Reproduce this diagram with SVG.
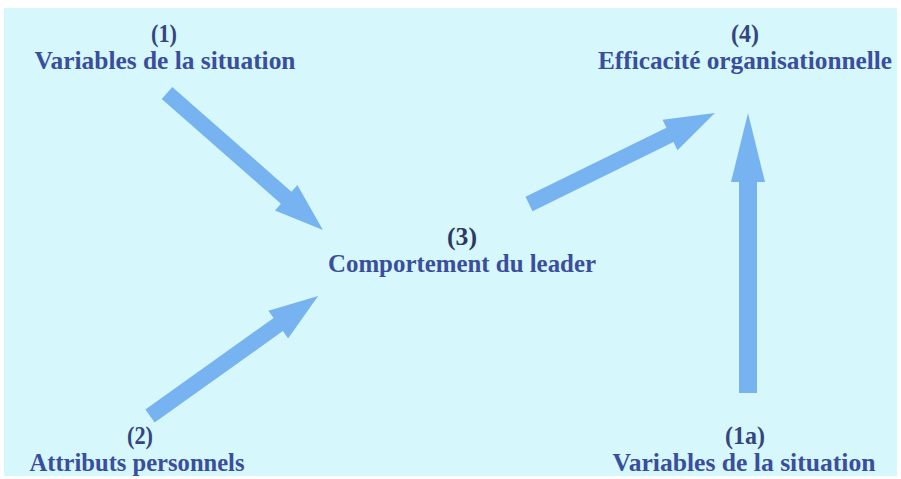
<svg xmlns="http://www.w3.org/2000/svg" width="901" height="479" viewBox="0 0 901 479">
<style>
.bg{fill:#d6f7fc}
.arr{fill:#78b3f1}
text{font-family:'Liberation Serif','DejaVu Serif',serif;font-weight:700;font-size:26px;fill:#3a4e9e;text-anchor:middle}
.n{fill:#34457f}
.d{fill:#2c3763}
</style>
<rect x="0" y="0" width="901" height="479" fill="#ffffff"/>
<rect class="bg" x="4" y="8" width="893" height="468"/>
<g id="connectors">
<g transform="translate(167,93) rotate(41.3)"><path class="arr" d="M0,-8 H158.6 V-17 L207.6,0 L158.6,17 V8 H0 Z"/></g>
<g transform="translate(150,416) rotate(-35.5)"><path class="arr" d="M0,-8 H157.5 V-17 L206.5,0 L157.5,17 V8 H0 Z"/></g>
<g transform="translate(529,204) rotate(-26.1)"><path class="arr" d="M0,-8 H157 V-17 L207,0 L157,17 V8 H0 Z"/></g>
<g transform="translate(748,393) rotate(-90)"><path class="arr" d="M0,-9 H211 V-17 L280,0 L211,17 V9 H0 Z"/></g>
</g>
<g id="n1">
<text class="n" x="164" y="42" textLength="26" lengthAdjust="spacingAndGlyphs">(1)</text>
<text x="165" y="69" textLength="261" lengthAdjust="spacingAndGlyphs">Variables de la situation</text>
</g>
<g id="n4">
<text class="n" x="745" y="42" textLength="28" lengthAdjust="spacingAndGlyphs">(4)</text>
<text x="745" y="69" textLength="294" lengthAdjust="spacingAndGlyphs">Efficacité organisationnelle</text>
</g>
<g id="n3">
<text class="d" x="462" y="245" textLength="30" lengthAdjust="spacingAndGlyphs">(3)</text>
<text x="462" y="272" textLength="268" lengthAdjust="spacingAndGlyphs">Comportement du leader</text>
</g>
<g id="n2">
<text class="n" x="140" y="444" textLength="26" lengthAdjust="spacingAndGlyphs">(2)</text>
<text x="137" y="471" textLength="215" lengthAdjust="spacingAndGlyphs">Attributs personnels</text>
</g>
<g id="n1a">
<text class="n" x="745" y="444" textLength="40" lengthAdjust="spacingAndGlyphs">(1a)</text>
<text x="744" y="471" textLength="263" lengthAdjust="spacingAndGlyphs">Variables de la situation</text>
</g>
</svg>
